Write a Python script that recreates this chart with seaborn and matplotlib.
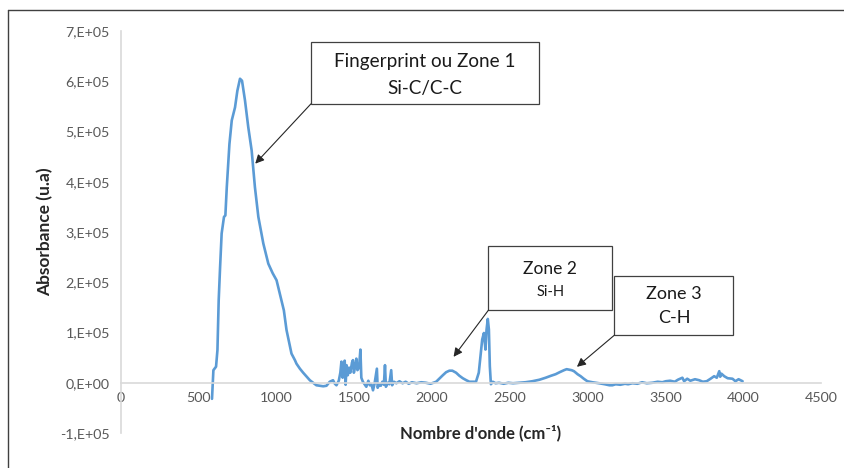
import matplotlib
matplotlib.use("Agg")
import matplotlib.pyplot as plt
from matplotlib.lines import Line2D
from matplotlib.patches import Rectangle
import pandas as pd
import seaborn as sns

# spectrum (wavenumber in cm-1, absorbance in u.a)
wavenumber = [
    585, 594, 611, 620, 628, 637, 647, 662, 671, 680, 697, 712, 733, 748, 765, 778,
    797, 818, 840, 861, 883, 915, 947, 975, 1000, 1021, 1047, 1064, 1086, 1096, 1118,
    1128, 1150, 1171, 1214, 1256, 1300, 1321, 1342, 1363, 1375, 1385, 1400, 1410, 1417,
    1425, 1432, 1438, 1444, 1450, 1458, 1466, 1474, 1485, 1491, 1497, 1504, 1513, 1520,
    1530, 1539, 1545, 1555, 1566, 1577, 1590, 1600, 1610, 1620, 1630, 1645, 1650, 1660,
    1670, 1680, 1690, 1697, 1703, 1715, 1725, 1737, 1743, 1755, 1770, 1790, 1810, 1830,
    1850, 1870, 1900, 1930, 1960, 1990, 2026, 2069, 2090, 2111, 2130, 2154, 2175, 2197,
    2220, 2240, 2282, 2300, 2315, 2322, 2333, 2343, 2350, 2358, 2365, 2371, 2378, 2390,
    2408, 2430, 2460, 2490, 2520, 2558, 2600, 2644, 2690, 2730, 2765, 2794, 2820, 2848,
    2865, 2880, 2897, 2912, 2935, 2955, 2975, 2998, 3030, 3073, 3110, 3140, 3159, 3180,
    3210, 3240, 3260, 3288, 3320, 3350, 3380, 3416, 3450, 3480, 3502, 3530, 3560, 3580,
    3609, 3620, 3640, 3660, 3690, 3717, 3740, 3765, 3790, 3813, 3830, 3846, 3852, 3860,
    3878, 3900, 3931, 3950, 3970, 3996,
]
absorbance = [
    -32000, 25000, 32000, 65000, 164000, 230000, 297000, 330000, 333000, 389000, 475000,
    522000, 548000, 581000, 605000, 601000, 562000, 509000, 462000, 389000, 330000,
    277000, 237000, 218000, 204000, 177000, 144000, 105000, 72000, 58000, 45000, 38000,
    28000, 20000, 5000, -5000, -7000, -6000, 2000, 5000, -2000, -5000, 4000, 20000,
    42000, 10000, 30000, 44000, -4000, 35000, 15000, 30000, 20000, 40000, 45000, 20000,
    30000, 48000, 25000, 30000, 66000, 10000, 2000, -3000, -8000, 4000, -5000, -3000,
    -15000, -2000, 28000, -10000, -3000, -6000, 2000, -4000, 35000, -8000, 0, -3000,
    25000, -5000, 2000, -1000, 3000, -1000, 2000, -2000, 1000, -1000, 1000, 0, -2000,
    2000, 15000, 21000, 24000, 24000, 20000, 14000, 9000, 5000, 2000, 2000, 20000, 65000,
    86000, 99000, 66000, 106000, 127000, 106000, 33000, -3000, 2000, -1000, 0, -2000, 0,
    -1000, 0, 1000, 3000, 6000, 10000, 14000, 17000, 21000, 25000, 27000, 26000, 25000,
    23000, 17000, 13000, 8000, 3000, 1000, -1000, -3000, -5000, -5000, -3000, -4000,
    -2000, -3000, -1000, -2000, 1000, -1000, 0, 2000, 1000, 3000, 4000, 2000, 6000,
    10000, 3000, 8000, 4000, 7000, 5000, 2000, 3000, 8000, 13000, 10000, 23000, 12000,
    18000, 13000, 9000, 8000, 3000, 7000, 3000,
]

xticks = [0, 500, 1000, 1500, 2000, 2500, 3000, 3500, 4000, 4500]
yticks = [-100000, 0, 100000, 200000, 300000, 400000, 500000, 600000, 700000]
ytick_labels = ["-1,E+05", "0,E+00", "1,E+05", "2,E+05", "3,E+05",
                "4,E+05", "5,E+05", "6,E+05", "7,E+05"]

sns.set_style("white")
plt.rcParams["font.family"] = ["Lato", "DejaVu Sans"]

axis_grey = "#d9d9d9"
text_grey = "#595959"
box_grey = "#404040"

fig = plt.figure(figsize=(8.44, 4.68), dpi=100)
ax = fig.add_axes([121 / 844, 1 - 433 / 468, 700 / 844, 402 / 468])

df = pd.DataFrame({"x": wavenumber, "y": absorbance})
sns.lineplot(data=df, x="x", y="y", ax=ax, color="#5b9bd5", linewidth=1.9, sort=False)

ax.set_xlim(0, 4500)
ax.set_ylim(-100000, 700000)
ax.set_xticks(xticks)
ax.set_xticklabels([str(t) for t in xticks])
ax.set_yticks(yticks)
ax.set_yticklabels(ytick_labels)

for side in ["top", "right"]:
    ax.spines[side].set_visible(False)
ax.spines["bottom"].set_position(("data", 0))
for side in ["left", "bottom"]:
    ax.spines[side].set_color(axis_grey)
    ax.spines[side].set_linewidth(1.2)
ax.tick_params(axis="both", direction="out", length=4, width=1, color=axis_grey,
               labelcolor=text_grey, labelsize=10.3)
ax.tick_params(axis="y", pad=4)
ax.tick_params(axis="x", pad=3)

ax.set_ylabel("Absorbance (u.a)", fontsize=12.5, fontweight="bold", color="#262626")
ax.yaxis.set_label_coords(-0.097, 0.5)
ax.set_xlabel("Nombre d'onde (cm⁻¹)", fontsize=12, fontweight="bold", color="#262626")
ax.xaxis.set_label_coords(0.514, 0.02)

# annotation boxes: (x0, x1, y0, y1), text lines, arrow tail -> tip
boxes = [
    ((1221, 2690, 555000, 677500),
     [("Fingerprint ou Zone 1", 639000, 13.6), ("Si-C/C-C", 585700, 13.6)],
     (1221, 555000), (863, 436000)),
    ((2362, 3156, 144400, 272200),
     [("Zone 2", 227300, 12.5), ("Si-H", 180800, 10.5)],
     (2362, 144400), (2138, 51600)),
    ((3172, 3937, 94700, 212000),
     [("Zone 3", 177600, 13), ("C-H", 127900, 13)],
     (3172, 94700), (2931, 31700)),
]
for (x0, x1, y0, y1), lines, tail, tip in boxes:
    ax.add_patch(Rectangle((x0, y0), x1 - x0, y1 - y0, facecolor="white",
                           edgecolor=box_grey, linewidth=0.9, zorder=4))
    for txt, ty, fs in lines:
        ax.text((x0 + x1) / 2, ty, txt, ha="center", va="center", fontsize=fs,
                color="#1a1a1a", zorder=5)
    ax.annotate("", xy=tip, xytext=tail,
                arrowprops=dict(arrowstyle="-|>", color="#262626", lw=0.8,
                                mutation_scale=13, shrinkA=0, shrinkB=0),
                zorder=5)

# outer chart frame (only top and left edges are visible in the crop)
fig.add_artist(Line2D([8 / 844, 8 / 844], [0, 1 - 10 / 468],
                      transform=fig.transFigure, color=box_grey, lw=1))
fig.add_artist(Line2D([8 / 844, 1], [1 - 10 / 468, 1 - 10 / 468],
                      transform=fig.transFigure, color=box_grey, lw=1))

fig.savefig("out.png", dpi=100)
